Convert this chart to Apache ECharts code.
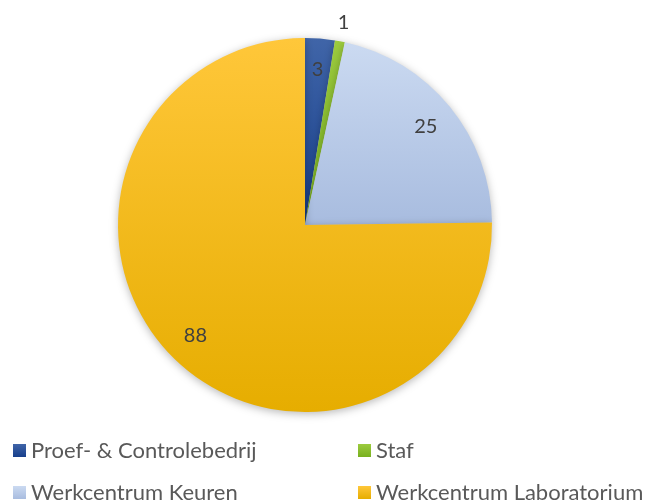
<!DOCTYPE html>
<html>
<head>
<meta charset="utf-8">
<script src="https://cdn.jsdelivr.net/npm/echarts@6/dist/echarts.min.js"></script>
<style>
  html, body { margin: 0; padding: 0; background: #fff; }
  #chart { width: 653px; height: 500px; }
</style>
</head>
<body>
<div id="chart"></div>
<script>
const categories = ['Proef- & Controlebedrij', 'Staf', 'Werkcentrum Keuren', 'Werkcentrum Laboratorium'];
const values = [3, 1, 25, 88];
const colorTop = ['#4065a8', '#9ccb3e', '#cbdaf1', '#ffc73a'];
const colorBottom = ['#173f8c', '#78b01f', '#a8bcdf', '#e6ad00'];

const grad = (i) => new echarts.graphic.LinearGradient(0, 0, 0, 1, [
  { offset: 0, color: colorTop[i] },
  { offset: 1, color: colorBottom[i] },
]);

const chart = echarts.init(document.getElementById('chart'));
const labelStyle = {
  color: '#404040',
  fontSize: 20,
  fontFamily: 'Lato, sans-serif',
};

chart.setOption({
  animation: false,
  legend: {
    left: 13,
    top: 433,
    width: 640,
    padding: 0,
    icon: 'rect',
    itemWidth: 13,
    itemHeight: 13,
    itemGap: 7,
    // left column items get a fixed text width so the right column lines up
    data: categories.map((name, i) => (i % 2 === 0
      ? { name, textStyle: { width: 320 } }
      : { name })),
    textStyle: {
      color: '#595959',
      fontSize: 22,
      fontFamily: 'Lato, sans-serif',
      lineHeight: 35,
      overflow: 'none',
    },
  },
  series: [
    {
      type: 'pie',
      center: [305, 225],
      radius: 187,
      startAngle: 90,
      label: { show: false },
      labelLine: { show: false },
      itemStyle: { shadowBlur: 8, shadowOffsetY: 2, shadowColor: 'rgba(0,0,0,0.28)' },
      emphasis: { disabled: true },
      data: categories.map((name, i) => ({
        name,
        value: values[i],
        itemStyle: { color: grad(i) },
      })),
    },
    {
      // value labels near the rim
      type: 'pie',
      center: [305, 225],
      radius: 306,
      startAngle: 90,
      silent: true,
      itemStyle: { color: 'transparent' },
      label: { show: true, position: 'inside', formatter: '{c}', ...labelStyle },
      labelLine: { show: false },
      data: values.map((v, i) => ({
        name: 'l' + i,
        value: v,
        label: { show: i !== 1 },
      })),
    },
    {
      // label of the thin slice, outside the pie
      type: 'pie',
      center: [305, 225],
      radius: 406,
      startAngle: 90,
      silent: true,
      itemStyle: { color: 'transparent' },
      label: { show: true, position: 'inside', formatter: '{c}', ...labelStyle },
      labelLine: { show: false },
      data: values.map((v, i) => ({
        name: 'o' + i,
        value: v,
        label: { show: i === 1 },
      })),
    },
  ],
});
</script>
</body>
</html>
